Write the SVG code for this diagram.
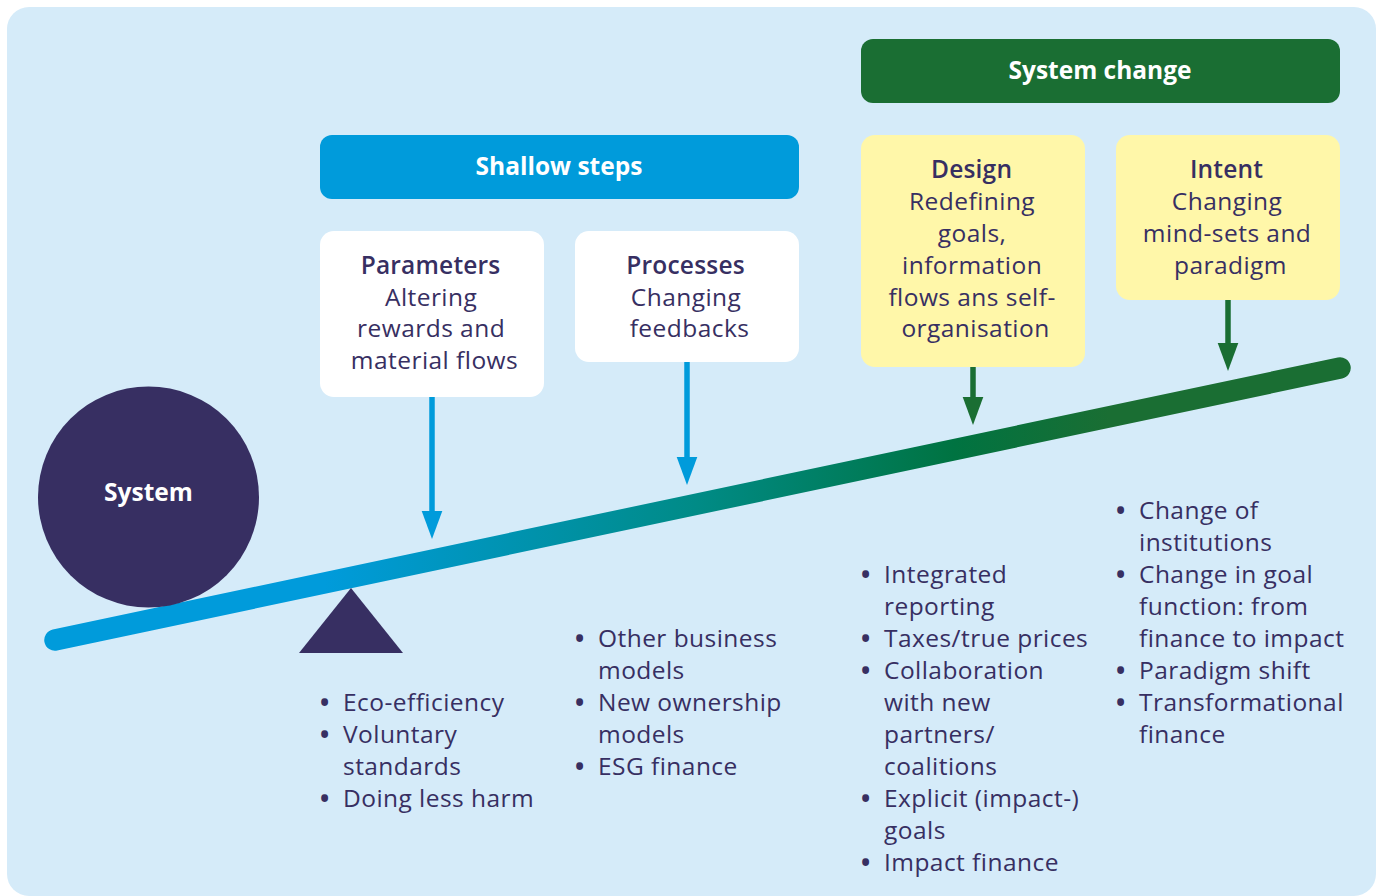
<svg xmlns="http://www.w3.org/2000/svg" width="1380" height="896" viewBox="0 0 1380 896">
  <defs>
    <linearGradient id="beamGrad" gradientUnits="userSpaceOnUse" x1="55" y1="0" x2="1340" y2="0">
      <stop offset="0" stop-color="#009bdb"/>
      <stop offset="0.21" stop-color="#009bdb"/>
      <stop offset="0.5" stop-color="#008b86"/>
      <stop offset="0.7" stop-color="#007341"/>
      <stop offset="0.82" stop-color="#1a6e33"/>
      <stop offset="1" stop-color="#1a6e33"/>
    </linearGradient>
    <marker id="headBlue" markerUnits="userSpaceOnUse" markerWidth="30" markerHeight="22" viewBox="0 -11 30 22" refX="1" refY="0" orient="auto">
      <path d="M0,-10.3 L28,0 L0,10.3 z" fill="#009bdb"/>
    </marker>
    <marker id="headGreen" markerUnits="userSpaceOnUse" markerWidth="30" markerHeight="22" viewBox="0 -11 30 22" refX="1" refY="0" orient="auto">
      <path d="M0,-10.3 L28,0 L0,10.3 z" fill="#1a6e33"/>
    </marker>
  </defs>
  <style>
    .t { font-family: "Open Sans", "DejaVu Sans", sans-serif; font-size: 24.5px; fill: #372f62; letter-spacing: 0.45px; }
    .b { font-weight: 600; letter-spacing: 0.2px; }
    .c { text-anchor: middle; }
    .bl { font-weight: bold; }
    .hd { font-family: "Open Sans", "DejaVu Sans", sans-serif; font-size: 24.5px; font-weight: bold; fill: #ffffff; text-anchor: middle; }
    .white { fill: #ffffff; }
    .yellow { fill: #fff7a9; }
    .arrB { stroke: #009bdb; stroke-width: 5.5; fill: none; marker-end: url(#headBlue); }
    .arrG { stroke: #1a6e33; stroke-width: 5.5; fill: none; marker-end: url(#headGreen); }
  </style>

  <rect id="panel" x="7" y="7" width="1369" height="889" rx="22" fill="#d5ebf9"/>

  <g id="beam">
    <line x1="55" y1="640" x2="1340" y2="368" stroke="url(#beamGrad)" stroke-width="21.5" stroke-linecap="round"/>
  </g>

  <g id="fulcrum">
    <polygon points="351,588 299,653 403,653" fill="#372f62"/>
  </g>

  <g id="system">
    <circle cx="148.5" cy="497" r="110.5" fill="#372f62"/>
    <text class="hd" x="148.5" y="501" font-size="23">System</text>
  </g>

  <g id="system-change">
    <rect x="861" y="39" width="479" height="64" rx="12" fill="#1a6e33"/>
    <text class="hd" x="1100" y="78.5">System change</text>
  </g>

  <g id="shallow-steps">
    <rect x="320" y="135" width="479" height="64" rx="12" fill="#009bdb"/>
    <text class="hd" x="559" y="174.5">Shallow steps</text>
  </g>

  <g id="parameters">
    <rect class="white" x="320" y="231" width="224" height="166" rx="14"/>
    <text class="t c">
      <tspan class="b" x="434" y="274">Parameters</tspan>
      <tspan x="434.5" y="305.5">Altering</tspan>
      <tspan x="434.5" y="337">rewards and</tspan>
      <tspan x="434.5" y="368.5">material flows</tspan>
    </text>
  </g>

  <g id="processes">
    <rect class="white" x="575" y="231" width="224" height="131" rx="14"/>
    <text class="t c">
      <tspan class="b" x="689" y="274">Processes</tspan>
      <tspan x="689.5" y="305.5">Changing</tspan>
      <tspan x="689.5" y="337">feedbacks</tspan>
    </text>
  </g>

  <g id="design">
    <rect class="yellow" x="861" y="135" width="224" height="232" rx="14"/>
    <text class="t c">
      <tspan class="b" x="975" y="178">Design</tspan>
      <tspan x="975.5" y="210">Redefining</tspan>
      <tspan x="975.5" y="242">goals,</tspan>
      <tspan x="975.5" y="273.5">information</tspan>
      <tspan x="975.5" y="305.5">flows ans self-</tspan>
      <tspan x="975.5" y="337">organisation</tspan>
    </text>
  </g>

  <g id="intent">
    <rect class="yellow" x="1116" y="135" width="224" height="165" rx="14"/>
    <text class="t c">
      <tspan class="b" x="1230" y="178">Intent</tspan>
      <tspan x="1230.5" y="210">Changing</tspan>
      <tspan x="1230.5" y="242">mind-sets and</tspan>
      <tspan x="1230.5" y="273.5">paradigm</tspan>
    </text>
  </g>

  <g id="connectors">
    <line class="arrB" x1="432" y1="397" x2="432" y2="512"/>
    <line class="arrB" x1="687" y1="362" x2="687" y2="458"/>
    <line class="arrG" x1="973" y1="367" x2="973" y2="398"/>
    <line class="arrG" x1="1228" y1="300" x2="1228" y2="344"/>
  </g>

  <g id="list-parameters">
    <text class="t">
      <tspan class="bl" x="320" y="711">•</tspan>
      <tspan x="343" y="711">Eco-efficiency</tspan>
      <tspan class="bl" x="320" y="743">•</tspan>
      <tspan x="343" y="743">Voluntary</tspan>
      <tspan x="343" y="775">standards</tspan>
      <tspan class="bl" x="320" y="807">•</tspan>
      <tspan x="343" y="807">Doing less harm</tspan>
    </text>
  </g>

  <g id="list-processes">
    <text class="t">
      <tspan class="bl" x="575" y="647">•</tspan>
      <tspan x="598" y="647">Other business</tspan>
      <tspan x="598" y="679">models</tspan>
      <tspan class="bl" x="575" y="711">•</tspan>
      <tspan x="598" y="711">New ownership</tspan>
      <tspan x="598" y="743">models</tspan>
      <tspan class="bl" x="575" y="775">•</tspan>
      <tspan x="598" y="775">ESG finance</tspan>
    </text>
  </g>

  <g id="list-design">
    <text class="t">
      <tspan class="bl" x="861" y="583">•</tspan>
      <tspan x="884" y="583">Integrated</tspan>
      <tspan x="884" y="615">reporting</tspan>
      <tspan class="bl" x="861" y="647">•</tspan>
      <tspan x="884" y="647">Taxes/true prices</tspan>
      <tspan class="bl" x="861" y="679">•</tspan>
      <tspan x="884" y="679">Collaboration</tspan>
      <tspan x="884" y="711">with new</tspan>
      <tspan x="884" y="743">partners/</tspan>
      <tspan x="884" y="775">coalitions</tspan>
      <tspan class="bl" x="861" y="807">•</tspan>
      <tspan x="884" y="807">Explicit (impact-)</tspan>
      <tspan x="884" y="839">goals</tspan>
      <tspan class="bl" x="861" y="871">•</tspan>
      <tspan x="884" y="871">Impact finance</tspan>
    </text>
  </g>

  <g id="list-intent">
    <text class="t">
      <tspan class="bl" x="1116" y="519">•</tspan>
      <tspan x="1139" y="519">Change of</tspan>
      <tspan x="1139" y="551">institutions</tspan>
      <tspan class="bl" x="1116" y="583">•</tspan>
      <tspan x="1139" y="583">Change in goal</tspan>
      <tspan x="1139" y="615">function: from</tspan>
      <tspan x="1139" y="647">finance to impact</tspan>
      <tspan class="bl" x="1116" y="679">•</tspan>
      <tspan x="1139" y="679">Paradigm shift</tspan>
      <tspan class="bl" x="1116" y="711">•</tspan>
      <tspan x="1139" y="711">Transformational</tspan>
      <tspan x="1139" y="743">finance</tspan>
    </text>
  </g>
</svg>
